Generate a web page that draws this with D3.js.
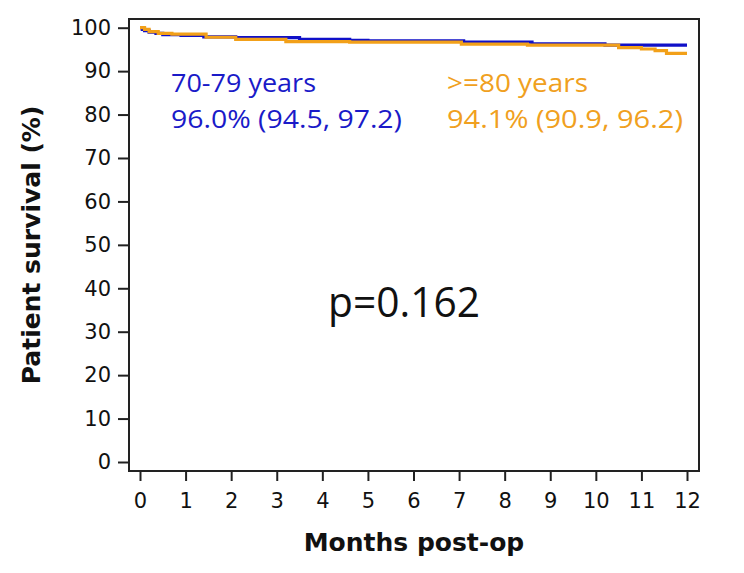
<!DOCTYPE html>
<html><head><meta charset="utf-8">
<script src="https://cdn.jsdelivr.net/npm/d3@7/dist/d3.min.js"></script>
<style>body{margin:0;background:#fff}svg{display:block}</style>
</head><body>
<svg id="chart" width="744" height="573"></svg>
<script>
// Data
const xTicks = [0,1,2,3,4,5,6,7,8,9,10,11,12];
const yTicks = [0,10,20,30,40,50,60,70,80,90,100];
const group7079Months = [0,0.05,0.1,0.2,0.35,0.5,0.9,1.4,2.1,3.5,4.6,5.0,7.1,8.6,10.2,12];
const group7079Surv   = [100,99.6,99.3,99.0,98.7,98.4,98.2,97.9,97.7,97.3,97.1,97.0,96.7,96.3,96.0,96.0];
const group80Months = [0,0.1,0.2,0.4,0.7,1.45,2.1,3.2,4.6,7.05,8.5,10.5,11.0,11.3,11.55,12];
const group80Surv   = [100,99.6,99.1,98.7,98.5,97.8,97.3,96.8,96.7,96.2,96.0,95.4,95.1,94.7,94.1,94.1];
const labels7079 = ["70-79 years","96.0% (94.5, 97.2)"];
const labels80 = [">=80 years","94.1% (90.9, 96.2)"];
const pText = "p=0.162";

const svg = d3.select("#chart");
const L=129, R=699, T=19, B=471;
const x = d3.scaleLinear().domain([0,12]).range([140,687]);
const y = d3.scaleLinear().domain([0,100]).range([462,27.7]);
const axisColor = "#222";

// frame
svg.append("rect").attr("x",L).attr("y",T).attr("width",R-L).attr("height",B-T)
  .attr("fill","none").attr("stroke",axisColor).attr("stroke-width",2);

const xAxis = svg.append("g").attr("transform",`translate(0,${B})`)
  .call(d3.axisBottom(x).tickValues(xTicks).tickSize(10).tickPadding(12).tickFormat(d3.format("d")));
const yAxis = svg.append("g").attr("transform",`translate(${L},0)`)
  .call(d3.axisLeft(y).tickValues(yTicks).tickSize(11).tickPadding(7).tickFormat(d3.format("d")));
[xAxis,yAxis].forEach(a=>{
  a.select(".domain").remove();
  a.selectAll("line").attr("stroke",axisColor).attr("stroke-width",2);
  a.selectAll("text").attr("font-family","DejaVu Sans").attr("font-size",21).attr("fill","#111");
});

const line = d3.line().curve(d3.curveStepAfter).x(d=>x(d[0])).y(d=>y(d[1]));
const d80 = d3.zip(group80Months, group80Surv);
const d7079 = d3.zip(group7079Months, group7079Surv);
svg.append("path").datum(d7079).attr("d",line).attr("fill","none").attr("stroke","#1010c8").attr("stroke-width",3.2);
svg.append("path").datum(d80).attr("d",line).attr("fill","none").attr("stroke","#f2a019").attr("stroke-width",3.2);

function ann(lines, xpos, color, widths){
  lines.forEach((t,i)=>{
    svg.append("text").attr("x",xpos).attr("y",92+i*35.5).text(t)
      .attr("font-family","Open Sans").attr("font-size",25).attr("fill",color)
      .attr("textLength",widths[i]).attr("lengthAdjust","spacingAndGlyphs");
  });
}
ann(labels7079,171,"#1a1ac8",[145,231]);
ann(labels80,447,"#f0a020",[141,236]);

svg.append("text").attr("x",328).attr("y",317).text(pText)
  .attr("font-family","Open Sans").attr("font-size",42).attr("fill","#111")
  .attr("textLength",152).attr("lengthAdjust","spacingAndGlyphs");

svg.append("text").attr("x",(L+R)/2).attr("y",551).attr("text-anchor","middle")
  .attr("font-family","DejaVu Sans").attr("font-weight","bold").attr("font-size",25).attr("fill","#111")
  .text("Months post-op");
svg.append("text").attr("transform",`translate(40,245) rotate(-90)`).attr("text-anchor","middle")
  .attr("font-family","DejaVu Sans").attr("font-weight","bold").attr("font-size",25).attr("fill","#111")
  .text("Patient survival (%)");
</script>
</body></html>
